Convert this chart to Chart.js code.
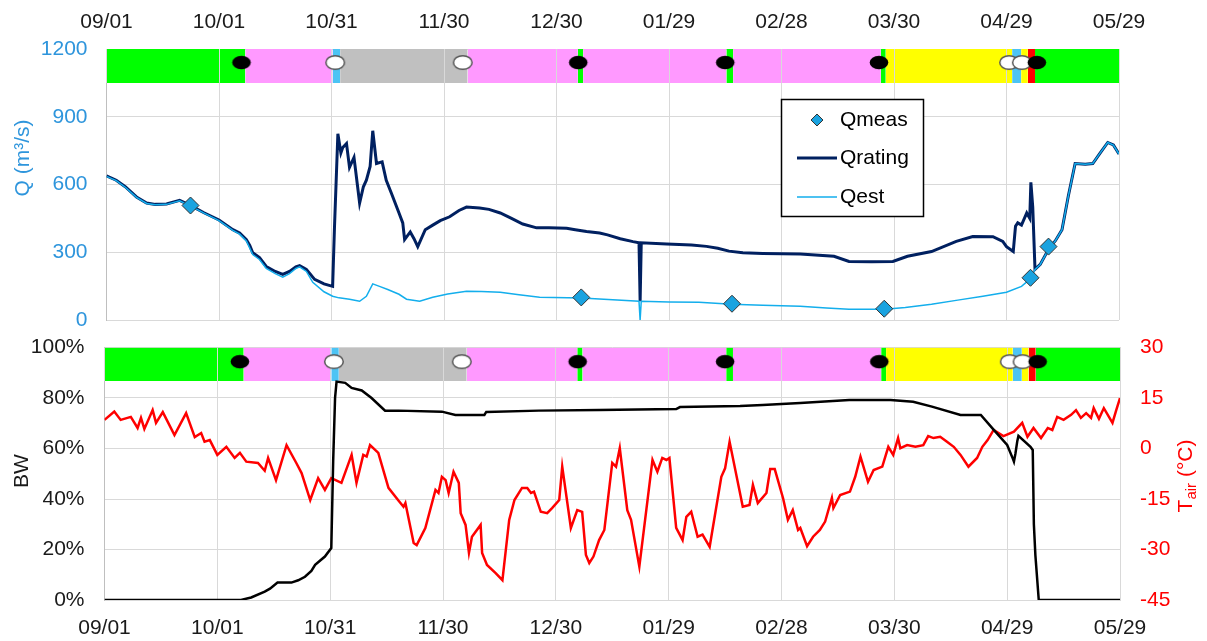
<!DOCTYPE html>
<html>
<head>
<meta charset="utf-8">
<script src="https://cdn.jsdelivr.net/npm/chart.js@4.4.1/dist/chart.umd.min.js"></script>
<style>
  body { margin: 0; background: #fff; }
  #wrap { position: relative; width: 1207px; height: 641px; }
  canvas { position: absolute; left: 0; }
  #qChart { top: 0; }
  #bwChart { top: 330px; }
</style>
</head>
<body>
<div id="wrap">
  <canvas id="qChart" width="1207" height="330"></canvas>
  <canvas id="bwChart" width="1207" height="311"></canvas>
</div>
<script>
// days since 09/01, one label every 30 days
const dateLabels = ['09/01', '10/01', '10/31', '11/30', '12/30', '01/29', '02/28', '03/30', '04/29', '05/29'];
const qTicks = [0, 300, 600, 900, 1200];
const bwTicks = [0, 20, 40, 60, 80, 100];
const tairTicks = [-45, -30, -15, 0, 15, 30];

// ice condition strip
const bandEdges = [0, 37, 60.3, 62.3, 96.3, 125.7, 127.1, 165.3, 167.1, 206.5, 207.8, 241.5, 243.9, 245.7, 247.6, 270];
const bandKind = ['open', 'ice', 'frazil', 'bridged', 'ice', 'open', 'ice', 'open', 'ice', 'open', 'breakup', 'frazil', 'breakup', 'jam', 'open'];
const markerDays = [36, 61, 95, 125.8, 165, 206, 240.7, 244.1, 248.1];
const markerKind = ['filled', 'hollow', 'hollow', 'filled', 'filled', 'filled', 'hollow', 'hollow', 'filled'];

// discharge
const ratingDays = [0, 2.6, 5, 8, 10.7, 13, 16, 19.5, 22.6, 26, 30, 33.7, 35.5, 37.3, 38.2, 39, 40.8, 42.6, 45, 47,
  48.8, 50.5, 51.5, 53.3, 55.5, 58, 60.3, 60.8, 61.7, 62.5, 63, 64, 64.8, 66, 67.5, 68.5, 69.3, 70.3, 71, 72,
  73.5, 74.6, 76, 78, 79, 79.5, 81, 82, 83, 85, 87, 89, 91.5, 94, 96, 99.5, 102, 105, 108, 111,
  114.7, 118, 122.7, 125, 128, 131.5, 133.6, 137, 140.4, 142, 142.3, 142.6, 149.4, 156, 160, 163, 166, 169.7, 175, 180,
  185, 194, 198, 204, 209.7, 213.6, 220, 226.6, 231, 236.4, 239, 240, 241.8, 242.4, 243, 244, 245.4, 246.2, 246.5, 247,
  247.6, 249, 251.6, 253, 254.8, 256.5, 258.3, 261, 263, 265, 267, 268.5, 270];
const ratingQ = [638, 619, 590, 545, 518, 512, 514, 530, 505, 475, 443, 400, 385, 356, 330, 298, 276, 237, 215, 202,
  215, 235, 241, 224, 180, 160, 149, 413, 825, 740, 764, 781, 676, 720, 518, 590, 619, 680, 838, 693,
  700, 619, 560, 474, 430, 356, 390, 360, 325, 400, 420, 440, 457, 485, 500, 496, 490, 474, 450, 425,
  408, 408, 406, 400, 392, 385, 377, 360, 347, 342, 83, 342, 336, 332, 326, 318, 305, 298, 295, 293,
  292, 282, 259, 258, 259, 282, 303, 348, 370, 369, 348, 325, 303, 415, 430, 420, 474, 450, 610, 500,
  224, 246, 325, 350, 400, 550, 693, 690, 693, 740, 786, 775, 735];

const estDays = [0, 2.6, 5, 8, 10.7, 13, 16, 19.5, 22.6, 26, 30, 33.7, 35.5, 37.3, 39, 40.8, 42.6, 45, 47, 48.8,
  50.5, 51.5, 53.3, 55, 58, 60.3, 62, 64.8, 67.5, 69.3, 71, 72.8, 75, 78, 80, 83.5, 87, 91, 96, 100,
  105, 110, 115.5, 126.7, 135, 142, 142.3, 142.6, 150, 158, 166.7, 175, 185, 192, 198, 207.6, 213, 220, 227, 233.7,
  240, 244, 246.5, 247.6, 249, 251.6, 253, 254.8, 256.5, 258.3, 261, 263, 265, 267, 268.5, 270];
const estQ = [636, 617, 588, 543, 516, 510, 512, 528, 503, 473, 440, 397, 380, 350, 290, 268, 228, 205, 190, 205,
  228, 235, 215, 167, 125, 105, 98, 92, 83, 105, 160, 149, 135, 114, 92, 83, 101, 115, 127, 126,
  123, 112, 101, 97, 90, 83, 0, 83, 80, 79, 70, 65, 61, 53, 48, 48, 55, 70, 88, 105,
  123, 149, 184, 224, 246, 325, 350, 400, 550, 693, 690, 693, 740, 786, 775, 735];

const measDays = [22.4, 126.6, 166.8, 207.4, 246.4, 251.2];
const measQ = [507, 100, 72, 50, 187, 325];

// bottom panel
const bwDays = [0, 36.3, 39, 42.6, 44, 46, 49.7, 51.5, 53.3, 55, 56, 58.6, 60.3, 60.8, 61.3, 61.7, 64, 65.7, 68.4, 71,
  74.6, 78.2, 89.7, 93.3, 101, 101.5, 115.5, 131.5, 152, 153, 169, 175, 185, 198, 209, 215, 220, 227.6, 233, 236.5,
  240, 241.5, 241.8, 242.2, 242.7, 243, 246.2, 246.8, 247.1, 247.5, 248.4, 270];
const bwPct = [0, 0, 1, 3.3, 4.5, 6.9, 6.9, 7.8, 9.2, 11.5, 13.9, 17.2, 20.6, 55, 80, 86.5, 86, 84, 83, 80,
  75, 75, 74.6, 73.3, 73.3, 74.5, 75, 75.2, 75.6, 76.4, 76.8, 77.2, 78, 79.2, 79.2, 78.5, 76.6, 73.3, 73.3, 67.3,
  61.4, 56, 54.8, 58, 63, 65, 60.7, 59.4, 30, 17.8, 0, 0];

const tDays = [0, 2.6, 4.3, 7, 8.8, 9.7, 10.6, 12.8, 13.7, 15.5, 18.6, 21.7, 24, 25.7, 26.6, 28, 30, 32.4, 34.6, 36,
  37.7, 40.8, 42.6, 43.5, 45.6, 48.4, 51, 52.4, 54.7, 56.8, 58.6, 60.3, 63, 65.7, 67, 68.8, 69.7, 70.6, 72.8, 75.5,
  78.2, 79.5, 80, 82.2, 83, 85.3, 88, 88.8, 89.7, 90.7, 91.5, 92.8, 94.2, 94.7, 96, 96.9, 97.7, 100, 100.4, 101.7,
  104, 105.8, 107.6, 109, 111, 112.4, 113.4, 114.2, 116, 117.7, 119, 120.9, 121.7, 124, 125.7, 127, 128, 128.9, 130, 131.5,
  132.9, 135, 136, 137, 139, 140, 142.2, 145.7, 147, 148.3, 149.4, 150.2, 152, 153.7, 154.7, 156, 157.7, 159, 160.9, 164,
  165, 166.2, 169.7, 171.5, 172.4, 173.7, 176, 177, 178.2, 180.4, 181.7, 183, 184.4, 185, 186.8, 188.4, 190.2, 191.6, 193.4, 193.8,
  195.6, 198.2, 199.6, 201, 203, 204.5, 206.8, 208.4, 209.7, 211, 211.6, 213.4, 215.6, 217.7, 219, 220.4, 222.2, 224, 225.8, 227.6,
  229.7, 232, 233.4, 234.8, 236.4, 239, 241.8, 244, 245.4, 247, 249, 250.8, 252, 253.3, 255, 257, 258.3, 259.6, 261, 262.3,
  263, 264.4, 265.7, 268, 269, 270];
const tAir = [8.5, 11.0, 8.5, 9.4, 6.1, 9.1, 5.8, 11.4, 7.6, 10.8, 4.0, 10.5, 3.4, 4.6, 2.0, 2.5, -1.9, 0.5, -2.8, -1.3,
  -3.9, -4.3, -6.6, -2.8, -9.4, 1.0, -4.3, -7.3, -15.3, -8.8, -12.3, -8.8, -10.2, -1.9, -10.2, -1.9, -2.4, 1.0, -1.3, -11.7,
  -15.5, -17.3, -16.2, -28.1, -28.7, -23.6, -12.3, -13.2, -8.4, -9.4, -13.2, -6.9, -10.2, -19.2, -22.7, -31.0, -26.2, -22.7, -31.0, -34.6,
  -37.0, -39.1, -21.2, -15.3, -11.7, -11.7, -13.2, -12.8, -18.8, -19.2, -17.7, -15.3, -5.4, -23.6, -18.3, -18.8, -31.6, -34.0, -32.1, -27.2,
  -24.2, -4.3, -5.4, 0.1, -18.3, -21.2, -35.1, -3.4, -6.9, -2.8, -3.4, -2.8, -23.6, -27.2, -20.3, -18.8, -26.2, -25.6, -29.2, -8.4,
  -5.9, 2.0, -17.3, -16.8, -10.8, -16.2, -13.2, -6.1, -6.1, -14.7, -21.2, -18.3, -24.2, -23.6, -29.0, -26.2, -24.2, -21.7, -14.7, -17.7,
  -13.8, -12.8, -8.4, -2.4, -9.9, -6.4, -5.4, 0.5, -1.9, 3.1, 0.1, 1.0, 0.5, 1.0, 3.7, 3.1, 3.5, 2.0, 0.5, -1.9,
  -5.4, -2.8, 0.5, 2.5, 5.5, 3.7, 5.0, 7.6, 3.5, 6.1, 3.1, 6.1, 5.5, 9.4, 8.5, 10.0, 11.4, 9.1, 10.5, 9.1,
  12.0, 8.8, 12.0, 7.6, 11.4, 15.0];

const FONT = "'Liberation Sans', Arial, sans-serif";
Chart.defaults.font.family = FONT;
Chart.defaults.font.size = 21;
Chart.defaults.animation = false;

const bandColor = { open: '#00FF00', ice: '#FF99FF', frazil: '#4CC4F4', bridged: '#C0C0C0', breakup: '#FFFF00', jam: '#FF0000' };
const GRID = '#D9D9D9';
const Q_BLUE = '#2E95DC';

function pts(xs, ys) { return xs.map((x, i) => ({ x: x, y: ys[i] })); }

function ellipseImg(fill, stroke) {
  const c = document.createElement('canvas');
  c.width = 22; c.height = 17;
  const g = c.getContext('2d');
  g.beginPath();
  g.ellipse(11, 8.5, 9.3, 6.8, 0, 0, Math.PI * 2);
  g.fillStyle = fill;
  g.fill();
  if (stroke) { g.lineWidth = 1.5; g.strokeStyle = stroke; g.stroke(); }
  return c;
}
const markerImg = { filled: ellipseImg('#000'), hollow: ellipseImg('#fff', '#555') };

function bandSets(lo, hi) {
  return bandKind.map((k, i) => ({
    type: 'line', band: true, order: 10,
    data: [{ x: bandEdges[i], y: hi }, { x: bandEdges[i + 1], y: hi }],
    fill: { value: lo }, backgroundColor: bandColor[k],
    borderColor: 'rgba(0,0,0,0)', borderWidth: 0, pointRadius: 0
  }));
}

function markerSet(level) {
  return {
    type: 'line', order: 1, showLine: false,
    data: pts(markerDays, markerDays.map(() => level)),
    pointStyle: ctx => markerImg[markerKind[ctx.dataIndex]] || 'circle',
    pointRadius: 9
  };
}

// vertical grid lines drawn again across the strip, under the markers
function bandGrid(lo, hi) {
  return {
    id: 'bandGrid',
    beforeDatasetsDraw(chart) { chart.$gridDone = false; },
    beforeDatasetDraw(chart, args) {
      if (chart.$gridDone || chart.data.datasets[args.index].band) return;
      chart.$gridDone = true;
      const x = chart.scales.x, y = chart.scales.y, ctx = chart.ctx;
      const top = y.getPixelForValue(hi), bot = y.getPixelForValue(lo);
      ctx.save();
      ctx.strokeStyle = GRID; ctx.lineWidth = 1;
      x.ticks.forEach(t => {
        const px = Math.round(x.getPixelForValue(t.value) - 0.5) + 0.5;
        ctx.beginPath(); ctx.moveTo(px, top); ctx.lineTo(px, bot); ctx.stroke();
      });
      ctx.restore();
    }
  };
}

function axisTitles(items) {
  return {
    id: 'axisTitles',
    afterDraw(chart) {
      const ctx = chart.ctx;
      items.forEach(it => {
        ctx.save();
        ctx.translate(it.x, it.y);
        ctx.rotate(-Math.PI / 2);
        ctx.fillStyle = it.color;
        ctx.textBaseline = 'middle';
        let total = 0;
        it.parts.forEach(p => { ctx.font = p.size + 'px ' + FONT; p.w = ctx.measureText(p.text).width; total += p.w; });
        let cx = -total / 2;
        it.parts.forEach(p => { ctx.font = p.size + 'px ' + FONT; ctx.fillText(p.text, cx, p.dy || 0); cx += p.w; });
        ctx.restore();
      });
    }
  };
}

const qLegend = {
  id: 'qLegend',
  afterDraw(chart) {
    const ctx = chart.ctx;
    ctx.save();
    ctx.fillStyle = '#fff';
    ctx.fillRect(781, 99, 143, 118);
    ctx.strokeStyle = '#000'; ctx.lineWidth = 1.5;
    ctx.strokeRect(781.5, 99.5, 142, 117);
    // Qmeas
    ctx.beginPath();
    ctx.moveTo(817, 114); ctx.lineTo(823, 120); ctx.lineTo(817, 126); ctx.lineTo(811, 120); ctx.closePath();
    ctx.fillStyle = '#1AA3E0'; ctx.fill();
    ctx.strokeStyle = '#333'; ctx.lineWidth = 1; ctx.stroke();
    // Qrating
    ctx.beginPath(); ctx.moveTo(797, 158); ctx.lineTo(837, 158);
    ctx.strokeStyle = '#002060'; ctx.lineWidth = 3; ctx.stroke();
    // Qest
    ctx.beginPath(); ctx.moveTo(797, 197); ctx.lineTo(837, 197);
    ctx.strokeStyle = '#13AEEC'; ctx.lineWidth = 1.5; ctx.stroke();
    ctx.fillStyle = '#000';
    ctx.font = '21px ' + FONT;
    ctx.textBaseline = 'middle';
    ctx.fillText('Qmeas', 840, 120);
    ctx.fillText('Qrating', 840, 158);
    ctx.fillText('Qest', 840, 197);
    ctx.restore();
  }
};

// keep Chart.js from reserving extra room for the outer tick labels
function noPad(s) { s.paddingTop = 0; s.paddingBottom = 0; s.paddingLeft = 0; s.paddingRight = 0; }

function xAxis(position, pad, height) {
  return {
    type: 'linear', position: position, min: 0, max: 270,
    afterBuildTicks: s => { s.ticks = dateLabels.map((_, i) => ({ value: i * 30 })); },
    ticks: { autoSkip: false, maxRotation: 0, padding: pad, color: '#1a1a1a', callback: v => dateLabels[Math.round(v / 30)] },
    grid: { color: GRID, drawTicks: false },
    border: { color: GRID },
    afterFit: s => { noPad(s); s.height = height; }
  };
}

// top panel: discharge
new Chart(document.getElementById('qChart'), {
  type: 'line',
  data: {
    datasets: [
      ...bandSets(1050, 1200),
      { label: 'Qrating', order: 4, data: pts(ratingDays, ratingQ), borderColor: '#002060', borderWidth: 3, pointRadius: 0, tension: 0 },
      { label: 'Qest', order: 3, data: pts(estDays, estQ), borderColor: '#13AEEC', borderWidth: 1.5, pointRadius: 0, tension: 0 },
      { label: 'Qmeas', order: 2, showLine: false, data: pts(measDays, measQ), pointStyle: 'rectRot', pointRadius: 8.5,
        backgroundColor: '#1AA3E0', borderColor: '#333', borderWidth: 1 },
      markerSet(1140)
    ]
  },
  options: {
    responsive: false,
    layout: { padding: { left: 0, right: 88, top: 0, bottom: 9 } },
    plugins: { legend: { display: false }, tooltip: { enabled: false } },
    scales: {
      x: xAxis('top', 14.5, 49),
      y: {
        min: qTicks[0], max: qTicks[qTicks.length - 1],
        afterBuildTicks: s => { s.ticks = qTicks.map(v => ({ value: v })); },
        ticks: { color: Q_BLUE, padding: 19, callback: v => String(v) },
        grid: { color: GRID, drawTicks: false },
        border: { color: '#BFBFBF' },
        afterFit: s => { noPad(s); s.width = 106.5; }
      }
    }
  },
  plugins: [bandGrid(1050, 1200), qLegend,
    axisTitles([{ x: 23, y: 158, color: Q_BLUE, parts: [{ text: 'Q (m³/s)', size: 21 }] }])]
});

// bottom panel: backwater and air temperature
new Chart(document.getElementById('bwChart'), {
  type: 'line',
  data: {
    datasets: [
      ...bandSets(86.7, 100),
      { label: 'Tair', order: 4, yAxisID: 'y2', data: pts(tDays, tAir), borderColor: '#FF0000', borderWidth: 2.5, pointRadius: 0, tension: 0 },
      { label: 'BW', order: 3, data: pts(bwDays, bwPct), borderColor: '#000', borderWidth: 2.5, pointRadius: 0, tension: 0 },
      markerSet(94.4)
    ]
  },
  options: {
    responsive: false,
    layout: { padding: { left: 0, right: 0, top: 17.5, bottom: 0 } },
    plugins: { legend: { display: false }, tooltip: { enabled: false } },
    scales: {
      x: xAxis('bottom', 15.5, 41),
      y: {
        min: bwTicks[0], max: bwTicks[bwTicks.length - 1],
        afterBuildTicks: s => { s.ticks = bwTicks.map(v => ({ value: v })); },
        ticks: { color: '#1a1a1a', padding: 20, callback: v => v + '%' },
        grid: { color: GRID, drawTicks: false },
        border: { color: '#BFBFBF' },
        afterFit: s => { noPad(s); s.width = 104.5; }
      },
      y2: {
        position: 'right',
        min: tairTicks[0], max: tairTicks[tairTicks.length - 1],
        afterBuildTicks: s => { s.ticks = tairTicks.map(v => ({ value: v })); },
        ticks: { color: '#FF0000', padding: 20, callback: v => String(v) },
        grid: { drawOnChartArea: false, drawTicks: false },
        border: { color: GRID },
        afterFit: s => { noPad(s); s.width = 87; }
      }
    }
  },
  plugins: [bandGrid(86.7, 100),
    axisTitles([
      { x: 22, y: 141, color: '#1a1a1a', parts: [{ text: 'BW', size: 21 }] },
      { x: 1186, y: 146, color: '#FF0000', parts: [{ text: 'T', size: 21 }, { text: 'air', size: 15, dy: 6 }, { text: ' (°C)', size: 21 }] }
    ])]
});
</script>
</body>
</html>
